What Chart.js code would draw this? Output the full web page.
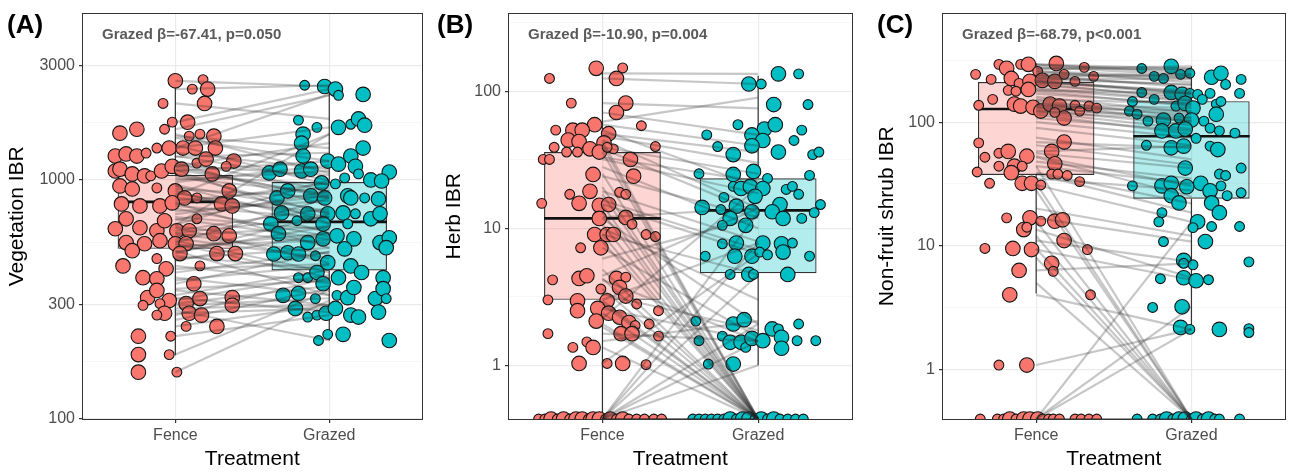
<!DOCTYPE html>
<html><head><meta charset="utf-8">
<script src="https://cdn.jsdelivr.net/npm/chart.js@4.4.0/dist/chart.umd.min.js"></script>
<style>
html,body{margin:0;padding:0;background:#fff}
body{width:1293px;height:473px;position:relative;overflow:hidden;font-family:"Liberation Sans",Arial,sans-serif}
.pan{position:absolute;top:0;height:473px}
.lab{position:absolute;font-weight:bold;font-size:26px;line-height:30px;color:#000;white-space:nowrap;z-index:2}
.ann{position:absolute;font-weight:bold;font-size:15px;line-height:17px;color:#5a5a5a;white-space:nowrap;z-index:2}
</style></head><body>
<div class="pan" style="left:0;width:430px"><canvas id="cA" width="430" height="473"></canvas></div>
<div class="pan" style="left:430px;width:430px"><canvas id="cB" width="430" height="473"></canvas></div>
<div class="pan" style="left:860px;width:433px"><canvas id="cC" width="433" height="473"></canvas></div>
<div id="overlay"></div>
<script>
// ---------------- DATA ----------------
const treatments = ['Fence', 'Grazed'];
const panelLabels = ['(A)', '(B)', '(C)'];
const yTitles = ['Vegetation IBR', 'Herb IBR', 'Non-fruit shrub IBR'];
const xTitle = 'Treatment';
const statLabels = ['Grazed \u03b2=-67.41, p=0.050', 'Grazed \u03b2=-10.90, p=0.004', 'Grazed \u03b2=-68.79, p<0.001'];

const vegTicks = [100, 300, 1000, 3000];
const herbTicks = [1, 10, 100];
const shrubTicks = [1, 10, 100];

// box stats: [lower whisker, Q1, median, Q3, upper whisker]  (0 = zero value)
const vegBoxFence = [185, 515, 810, 1050, 2630];
const vegBoxGrazed = [213, 418, 668, 980, 2500];
const herbBoxFence = [0, 3.0, 11.8, 36, 142];
const herbBoxGrazed = [1.0, 4.7, 13.5, 23.2, 130];
const shrubBoxFence = [4.1, 37.4, 128, 211, 300];
const shrubBoxGrazed = [2.14, 24, 77, 148, 283];

// points: [jitter, value, size class]
const vegFence = [[0,2600,2],[.18,2630,1],[.11,2400,1],[.21,2400,2],[.19,2090,2],[-.08,2090,1],[.08,1745,2],[-.02,1745,1],[-.07,1630,1],[-.25,1630,2],[-.36,1570,2],[.09,1525,1],[.16,1555,1],[.25,1525,2],[-.39,1259,2],[-.32,1285,2],[-.25,1259,2],[-.19,1296,1],[-.12,1360,1],[-.04,1360,2],[.05,1360,2],[.13,1360,2],[.26,1360,2],[.38,1200,2],[-.39,1090,2],[-.36,1110,2],[-.28,1060,2],[-.2,1040,2],[-.16,1040,1],[-.09,1090,2],[-.02,1140,2],[.04,1110,2],[.14,1177,1],[.2,1223,2],[.24,1060,2],[.33,1140,1],[-.36,944,2],[-.28,917,2],[-.12,926,1],[0,900,2],[.06,841,2],[.14,841,1],[.35,900,2],[-.35,794,2],[-.23,779,2],[-.1,779,2],[-.02,802,2],[.3,794,2],[.37,779,2],[-.32,688,2],[-.39,625,2],[-.23,631,2],[-.12,613,2],[-.07,675,2],[.01,613,2],[.09,613,2],[.14,688,1],[.25,596,2],[.35,584,2],[-.32,547,2],[-.2,541,2],[-.1,557,2],[0,541,2],[.07,541,2],[-.28,506,2],[.03,492,2],[.27,492,2],[.39,492,2],[-.34,437,2],[-.12,469,1],[.16,437,1],[-.06,425,2],[-.21,390,2],[-.12,386,2],[.12,368,2],[-.18,322,2],[-.12,345,2],[-.04,313,2],[-.21,299,1],[-.1,304,1],[.07,304,2],[.16,319,2],[.37,322,2],[.37,299,2],[-.07,277,2],[-.12,272,1],[.09,277,2],[.17,272,2],[.07,244,1],[.27,244,2],[-.24,222,2],[-.03,222,1],[-.24,186,2],[-.04,186,1],[-.24,157,2],[.01,157,1]];
const vegGrazed = [[-.16,2490,1],[-.03,2460,2],[.04,2400,2],[.06,2260,1],[.22,2280,2],[-.2,1780,1],[-.08,1660,1],[.06,1660,2],[.14,1710,1],[.19,1800,2],[.23,1695,2],[-.17,1555,2],[-.18,1425,2],[.22,1360,2],[-.17,1259,2],[-.01,1200,2],[.06,1165,2],[.14,1259,2],[.17,1140,2],[.39,1080,2],[-.39,1070,2],[-.32,1110,2],[-.18,1090,2],[-.12,1110,2],[-.05,972,2],[.04,963,1],[.1,1020,1],[.19,1060,1],[.27,1000,2],[.34,990,2],[-.34,841,2],[-.27,900,2],[-.12,858,2],[-.03,841,2],[.12,858,2],[.14,841,2],[.23,841,1],[.32,833,2],[-.31,728,2],[-.14,722,2],[-.01,722,2],[.09,728,2],[.17,722,1],[.27,688,2],[.33,722,2],[-.38,655,2],[-.21,675,1],[-.04,655,2],[.12,655,1],[-.33,596,2],[-.14,547,2],[-.04,567,2],[.05,584,2],[.16,567,2],[.33,547,2],[.39,573,2],[.37,521,2],[-.36,490,2],[-.27,496,2],[-.2,490,2],[-.09,482,1],[-.01,451,2],[.1,515,2],[.14,437,2],[.21,410,2],[-.2,390,1],[-.14,390,1],[-.08,410,2],[.06,390,2],[.35,390,2],[-.3,329,2],[-.2,335,2],[-.09,319,1],[-.04,368,2],[.05,329,1],[.12,322,2],[.16,355,2],[.3,319,2],[.35,351,2],[.37,319,1],[-.22,290,2],[-.14,267,1],[-.08,272,1],[-.02,277,2],[.04,290,2],[.14,272,2],[.19,267,2],[.32,280,2],[-.01,226,1],[-.07,213,1],[.09,226,2],[.39,213,2]];

const herbFence = [[-.04,147,2],[.13,148,1],[-.34,124,1],[.09,124,2],[-.2,82,1],[.15,82,2],[.09,70,2],[.25,56,1],[-.3,52,1],[-.05,57,2],[-.19,52,2],[-.13,52,2],[.04,49,2],[-.22,44,2],[-.15,43,2],[-.08,38,2],[.01,42,2],[.07,38,1],[-.31,39,1],[-.23,36,1],[-.16,36,1],[-.02,36,2],[.03,39,1],[.34,39.5,1],[-.38,31.8,1],[-.34,31.8,1],[.18,31.8,2],[-.06,24.7,2],[.2,24,2],[-.08,18.6,2],[-.21,17.7,1],[.11,18.3,1],[.15,17.7,1],[-.39,15.2,1],[-.15,15.2,2],[-.02,14.7,2],[.04,14.9,2],[-.02,11.8,2],[.15,12,2],[.19,10.7,1],[-.05,9,2],[.03,9,2],[.07,9,2],[.28,9,1],[.34,8.7,1],[-.14,7.2,1],[-.01,7.2,2],[-.32,4.2,1],[-.15,4.3,2],[-.1,4.5,2],[.09,4.3,2],[.15,4.4,1],[-.01,3.6,1],[.11,3.7,2],[.15,3.2,2],[-.35,3.0,1],[-.16,2.95,2],[.03,2.95,2],[.22,2.8,1],[-.16,2.5,2],[-.03,2.6,2],[.36,2.5,1],[.04,2.4,2],[.11,2.24,2],[.17,2.05,2],[.21,1.95,1],[-.04,2.1,2],[.3,2.0,1],[.12,1.7,2],[.19,1.7,2],[-.35,1.7,1],[.36,1.63,1],[-.19,1.35,1],[-.1,1.48,1],[-.06,1.35,2],[-.15,1.03,2],[.03,1.03,1],[.13,1.03,2],[.28,1.01,1],
  [-.41,0,1],[-.37,0,1],[-.33,0,2],[-.29,0,1],[-.25,0,2],[-.21,0,1],[-.17,0,2],[-.13,0,2],[-.09,0,1],[-.06,0,2],[-.02,0,2],[.02,0,1],[.05,0,2],[.09,0,1],[.13,0,2],[.17,0,1],[.22,0,1],[.27,0,1],[.33,0,1],[.38,0,1]];
const herbGrazed = [[-.06,113,2],[.02,113,1],[.13,134,2],[.26,134,1],[.1,80,2],[.32,80,1],[-.13,57,1],[.04,53,2],[.11,57,2],[.28,52,1],[-.33,48,1],[-.04,48,2],[.03,43.7,2],[.23,43.7,1],[-.26,39.5,1],[-.04,40,2],[.13,36,2],[-.16,34.5,2],[.35,34.5,1],[.39,36,1],[-.38,25,1],[-.16,24.7,2],[-.03,26,2],[.06,23.1,1],[.33,24.3,1],[-.16,20.2,1],[-.11,19.5,2],[-.05,20.2,2],[.03,19.5,2],[.18,19.2,1],[.22,20.2,1],[.26,17.7,1],[-.22,16.8,1],[-.02,17.1,2],[.14,14.9,2],[-.36,14.2,2],[-.24,13.7,1],[-.14,14.5,2],[-.04,13.2,2],[.09,13.2,2],[.16,11.8,2],[.28,11.8,1],[.36,13,1],[.4,14.9,1],[-.18,11.8,2],[-.23,10.5,1],[-.08,10.5,2],[-.23,7.7,1],[-.14,7.8,2],[.03,7.8,2],[.15,7.7,2],[.22,7.8,1],[-.34,6.25,1],[-.15,6.25,2],[-.04,6.25,2],[.01,6.7,1],[.06,6.4,1],[.16,6.7,2],[.33,6.25,1],[-.18,4.6,1],[-.06,4.6,2],[-.03,4.6,1],[.19,4.6,2],[-.4,2.1,1],[-.16,2.0,2],[-.09,2.15,2],[.09,1.84,2],[.13,1.84,1],[.26,2.0,1],[-.38,1.51,1],[-.23,1.63,1],[-.18,1.47,2],[-.11,1.47,2],[-.08,1.35,1],[-.04,1.57,2],[.03,1.51,2],[.15,1.6,2],[.15,1.33,2],[.25,1.51,1],[.37,1.51,1],[-.32,1.02,1],[-.16,1.02,2],
  [-.42,0,1],[-.38,0,1],[-.34,0,1],[-.3,0,1],[-.26,0,1],[-.22,0,1],[-.18,0,2],[-.14,0,1],[-.1,0,2],[-.06,0,2],[-.02,0,1],[.02,0,2],[.06,0,1],[.1,0,2],[.14,0,1],[.19,0,1],[.24,0,1],[.29,0,1]];

const shrubFence = [[-.39,244,1],[-.29,222,1],[-.24,294,1],[-.19,273,2],[-.1,294,1],[-.05,294,2],[-.16,226,2],[-.11,206,1],[-.04,214,2],[.01,258,1],[.04,218,2],[.13,299,2],[.12,214,2],[.18,244,1],[.25,214,1],[.31,278,1],[.37,235,1],[-.18,181,1],[-.13,178,1],[-.05,184,2],[-.37,137,1],[-.28,153,1],[-.14,140,2],[-.1,135,2],[-.02,132,2],[.03,123,2],[.09,140,2],[.15,135,2],[.18,108,2],[.25,137,1],[.28,123,1],[.34,135,1],[.39,130,1],[.12,120,1],[-.37,68,1],[-.24,56,1],[-.18,58,2],[-.06,53,2],[-.33,52,1],[-.24,44,1],[-.14,44,2],[-.09,44,1],[.1,58,2],[.18,69,2],[.12,46,2],[-.38,39.5,1],[-.16,39,2],[.1,38,1],[.14,38,1],[.2,37,1],[.28,33,1],[-.3,32,1],[-.09,32,2],[-.03,32,2],[.03,31,1],[-.19,16.8,1],[-.04,16.8,2],[.03,15.8,1],[.12,15.8,2],[.17,16.2,2],[-.08,13.5,2],[-.06,14.1,1],[.18,11,2],[-.33,9.5,1],[-.15,9.5,2],[-.03,9.3,2],[.33,9.3,1],[-.11,6.3,2],[.1,7.2,2],[.11,6.2,1],[-.17,4.0,2],[.35,4.0,1],[-.24,1.08,1],[-.06,1.08,2],
  [-.36,0,1],[-.25,0,1],[-.21,0,1],[-.17,0,2],[-.13,0,1],[-.08,0,2],[-.04,0,2],[.01,0,2],[.04,0,1],[.08,0,1],[.11,0,1],[.15,0,1],[.25,0,1],[.29,0,1],[.34,0,1],[.39,0,1]];
const shrubGrazed = [[-.32,272,1],[-.13,283,2],[-.24,235,1],[-.18,226,1],[-.07,244,1],[-.01,249,1],[.13,231,2],[.19,249,2],[.22,202,1],[.32,222,1],[.31,171,1],[-.32,174,1],[-.13,174,2],[-.06,168,2],[-.01,171,1],[.04,168,1],[.12,171,1],[-.38,147,1],[-.24,153,1],[-.1,135,1],[-.04,142,2],[.01,130,2],[.07,153,1],[.16,140,1],[.19,147,1],[-.4,123,1],[-.35,116,1],[-.28,102,1],[-.18,104,2],[-.08,108,1],[0,104,2],[.08,102,1],[.16,116,2],[.12,89.5,1],[.18,85,1],[.28,81.5,1],[-.19,85,2],[-.1,85,2],[-.04,88,2],[.03,74,1],[-.29,65,1],[-.13,62,2],[-.05,64,2],[.12,64,1],[.17,60,2],[-.04,42.5,2],[.32,42.5,1],[.18,38,1],[.22,37,1],[-.38,30.5,1],[-.19,30.5,2],[-.13,32,2],[-.03,30,2],[.06,32,2],[.12,27.8,2],[.19,30.5,1],[.23,25.4,1],[.32,26.8,1],[-.13,25.4,2],[-.08,22.2,2],[-.19,18.5,1],[.13,22.2,2],[.18,18.5,2],[-.21,15.6,1],[.04,15.6,2],[.01,14,1],[.13,14.3,1],[.31,14.3,1],[.09,10.8,2],[-.18,10.8,1],[.37,7.4,1],[-.05,7.6,2],[.01,7.0,1],[-.05,7.2,1],[-.2,5.4,1],[-.05,5.5,2],[.03,5.2,2],[.11,5.3,1],[-.25,3.16,1],[-.06,3.2,2],[-.07,2.18,2],[-.01,2.1,1],[.18,2.1,2],[.37,2.13,1],[.37,1.98,1],
  [-.35,0,1],[-.25,0,1],[-.2,0,1],[-.16,0,2],[-.12,0,1],[-.08,0,2],[-.04,0,2],[0,0,1],[.03,0,2],[.07,0,1],[.11,0,2],[.15,0,1],[.18,0,1],[.31,0,1]];

// paired sites: [Fence value, Grazed value]
const vegPairs = [[2600,2460],[2400,2490],[2090,1800],[1745,2400],[1630,2260],[1525,1360],[1360,2280],[1360,1660],[1300,1110],[1260,1000],[1200,900],[1140,1425],[1110,860],[1090,1200],[1060,720],[1040,960],[1000,1090],[944,655],[917,841],[900,600],[860,1555],[841,730],[802,520],[794,972],[779,690],[720,860],[688,566],[650,1000],[631,450],[613,760],[596,490],[584,640],[557,410],[547,840],[541,390],[520,600],[506,330],[492,720],[469,520],[437,370],[425,445],[390,330],[368,500],[345,300],[330,420],[322,280],[304,360],[299,320],[285,213],[277,290],[272,390],[244,300],[222,272],[186,345],[157,313],[1555,1070],[1140,841],[650,1555],
  [1500,1200],[1400,950],[1250,1300],[1180,780],[1150,1050],[1100,660],[1020,880],[980,1150],[950,740],[880,700],[820,930],[760,580],[740,820],[700,620],[680,900],[640,540],[600,700],[570,470],[530,560],[500,640],[480,420],[460,600],[410,500],[380,440],[350,380],[315,400],[290,300],[260,350]];
const herbPairs = [[124,113],[135,134],[82,75],[70,48],[57,40],[52,20],[49,36],[44,14],[43,0],[39,25],[38,13],[36,0],[32,18],[25,0],[24,12],[18.6,8],[17.7,0],[15,6.5],[14.7,0],[12,14],[11.8,2],[10.7,0],[9,4.6],[9,0],[7.2,1.6],[4.3,0],[4.5,14],[4.2,1.5],[3.6,0],[3.0,7.8],[2.95,0],[2.6,1.5],[2.4,0],[2.2,20],[2.0,0],[1.7,1.5],[1.35,0],[1.03,6.5],[0,2.0],[0,1.5],[0,4.6],[0,7.8],[0,0],[0,0],[0,1.0],
  [60,90],[47,30],[40,0],[33,22],[28,10],[20,0],[16,7],[13,0],[10,3],[8,0],[6,12],[5,0],[3.3,1.8],[2.8,0],[1.9,0],[1.5,2.1],[0,13],[0,0]];
const shrubPairs = [[294,272],[294,249],[273,283],[258,235],[244,226],[235,244],[226,222],[222,202],[218,171],[214,174],[214,168],[206,153],[184,147],[181,171],[178,135],[153,142],[140,130],[137,116],[135,123],[132,104],[130,108],[123,102],[120,88],[108,85],[69,62],[58,64],[56,42.5],[53,30.5],[52,25],[44,32],[44,0],[39,22],[38,18.5],[32,0],[31,15.6],[16.8,10.8],[15.8,0],[13.5,5.5],[11,7.4],[9.5,0],[9.3,5.3],[6.3,7.2],[4.0,2.1],[1.08,2.1],[0,15.6],[0,3.2],[0,0],[0,0],[0,2.1],
  [290,260],[280,240],[270,270],[260,210],[250,230],[240,190],[230,200],[210,180],[200,160],[190,150],[170,140],[160,120],[150,110],[145,100],[125,95],[115,80],[100,75],[90,65],[75,50],[65,45],[48,35],[35,28],[28,0],[20,12],[12,0],[8,0],[5,0]];

// ---------------- LAYOUT / STYLE ----------------
const layouts = [
  {canvas:'cA', left:0,   width:430, areaLeft:83,  areaRight:423,  yMin:100,   yMax:4966, titleCx:17.5, labelX:7},
  {canvas:'cB', left:430, width:430, areaLeft:509, areaRight:858,  yMin:0.405, yMax:369,  titleCx:454,  labelX:437},
  {canvas:'cC', left:860, width:433, areaLeft:943, areaRight:1292, yMin:0.395, yMax:757,  titleCx:887.5, labelX:877}
];
const FILL_PT = ['#F8766D', '#00BFC4'];
const FILL_BOX = ['rgba(248,118,109,0.3)', 'rgba(0,191,196,0.3)'];
const INK = '#333333';

Chart.defaults.font.family = "'Liberation Sans', Arial, sans-serif";

const panelBorder = {
  id: 'panelBorder',
  afterDatasetsDraw(chart) {
    const {ctx, chartArea: a} = chart;
    ctx.save();
    ctx.strokeStyle = INK;
    ctx.lineWidth = 1;
    ctx.strokeRect(Math.round(a.left) - 0.5, Math.round(a.top) - 0.5, Math.round(a.right - a.left) + 1, Math.round(a.bottom - a.top) + 1);
    ctx.restore();
  }
};

function minorTicks(ticks, lo, hi) {
  const out = [];
  for (let i = 0; i < ticks.length - 1; i++) out.push(Math.sqrt(ticks[i] * ticks[i + 1]));
  const r = ticks[1] / ticks[0], r2 = ticks[ticks.length - 1] / ticks[ticks.length - 2];
  out.push(ticks[0] / Math.sqrt(r));
  out.push(ticks[ticks.length - 1] * Math.sqrt(r2));
  return out.filter(v => v > lo && v < hi);
}

function buildPanel(i, fence, grazed, pairs, boxF, boxG, ticks) {
  const L = layouts[i];
  const z = v => (v === 0 ? L.yMin : v);
  const HW = 0.375;
  const majors = new Set(ticks);
  const allTicks = ticks.filter(v => v >= L.yMin && v <= L.yMax).concat(minorTicks(ticks, L.yMin, L.yMax)).sort((a, b) => a - b);
  const datasets = [];

  pairs.forEach(p => datasets.push({
    type: 'line', data: [{x: 1, y: z(p[0])}, {x: 2, y: z(p[1])}],
    borderColor: 'rgba(40,40,40,0.26)', borderWidth: 2.2, pointRadius: 0, tension: 0, order: 0
  }));

  [[fence, 1, 0], [grazed, 2, 1]].forEach(([arr, c, k]) => datasets.push({
    type: 'scatter',
    data: arr.map(d => ({x: c + d[0], y: z(d[1]), s: d[2]})),
    backgroundColor: FILL_PT[k], borderColor: '#151515', borderWidth: 1.1,
    pointRadius: ctx => (ctx.raw && ctx.raw.s === 2 ? 7.3 : 4.9),
    order: 1, clip: 0
  }));

  [[boxF, 1], [boxG, 2]].forEach(([b, c]) => {
    datasets.push({type: 'line', data: [{x: c, y: z(b[0])}, {x: c, y: b[1]}], borderColor: INK, borderWidth: 1.2, pointRadius: 0, order: 2});
    datasets.push({type: 'line', data: [{x: c, y: b[3]}, {x: c, y: b[4]}], borderColor: INK, borderWidth: 1.2, pointRadius: 0, order: 2});
    datasets.push({type: 'line', data: [{x: c - HW, y: b[2]}, {x: c + HW, y: b[2]}], borderColor: '#111', borderWidth: 2.6, pointRadius: 0, order: 2});
  });

  datasets.push({
    type: 'bar',
    data: [{x: 1, y: [boxF[1], boxF[3]]}, {x: 2, y: [boxG[1], boxG[3]]}],
    backgroundColor: FILL_BOX, borderColor: INK, borderWidth: 1.2, borderSkipped: false,
    barPercentage: 1, categoryPercentage: 0.75, order: 3
  });

  new Chart(document.getElementById(L.canvas), {
    type: 'scatter',
    data: {datasets},
    plugins: [panelBorder],
    options: {
      responsive: false, animation: false, events: [],
      layout: {padding: {left: 0, top: 12, bottom: 0, right: L.left + L.width - L.areaRight}},
      plugins: {legend: {display: false}, tooltip: {enabled: false}},
      scales: {
        x: {
          type: 'linear', min: 0.4, max: 2.6, bounds: 'data', offset: false,
          afterBuildTicks: s => { s.ticks = [{value: 1}, {value: 2}]; },
          afterFit: s => { s.height = 54; },
          ticks: {callback: (v, idx) => treatments[idx], font: {size: 16}, color: '#4D4D4D', padding: 3, autoSkip: false, maxRotation: 0},
          grid: {offset: false, color: '#EBEBEB', lineWidth: 1.2, tickColor: INK, tickLength: 4},
          border: {display: false},
          title: {display: true, text: xTitle, font: {size: 21}, color: '#000', padding: {top: 0, bottom: 1}}
        },
        y: {
          type: 'logarithmic', min: L.yMin, max: L.yMax, bounds: 'data', offset: false,
          afterBuildTicks: s => { s.ticks = allTicks.map(v => ({value: v})); },
          afterFit: s => { s.width = L.areaLeft - L.left; },
          ticks: {callback: v => (majors.has(v) ? String(v) : ''), font: {size: 16}, color: '#4D4D4D', padding: 4, autoSkip: false},
          grid: {
            offset: false,
            color: c => (c.tick && majors.has(c.tick.value) ? '#EBEBEB' : '#F4F4F4'),
            lineWidth: c => (c.tick && majors.has(c.tick.value) ? 1.2 : 0.7),
            tickColor: c => (c.tick && majors.has(c.tick.value) ? INK : 'rgba(0,0,0,0)'),
            tickLength: 4
          },
          border: {display: false},
          title: {display: true, text: yTitles[i], font: {size: 21}, color: '#000', padding: {top: L.titleCx - L.left - 12.6, bottom: 0}}
        }
      }
    }
  });

  const ov = document.getElementById('overlay');
  const lab = document.createElement('div');
  lab.className = 'lab'; lab.textContent = panelLabels[i];
  lab.style.left = L.labelX + 'px'; lab.style.top = '9px';
  ov.appendChild(lab);
  const ann = document.createElement('div');
  ann.className = 'ann'; ann.textContent = statLabels[i];
  ann.style.left = (L.areaLeft + 19) + 'px'; ann.style.top = '25px';
  ov.appendChild(ann);
}

buildPanel(0, vegFence, vegGrazed, vegPairs, vegBoxFence, vegBoxGrazed, vegTicks);
buildPanel(1, herbFence, herbGrazed, herbPairs, herbBoxFence, herbBoxGrazed, herbTicks);
buildPanel(2, shrubFence, shrubGrazed, shrubPairs, shrubBoxFence, shrubBoxGrazed, shrubTicks);
</script>
</body></html>
